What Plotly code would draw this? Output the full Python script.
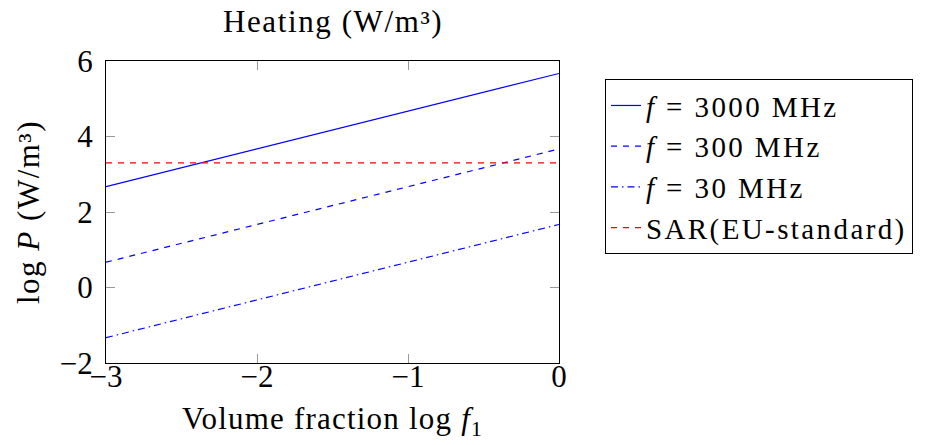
import plotly.graph_objects as go

x_vals = [-3, -2, -1, 0]
p_3000 = [2.67, 3.67, 4.67, 5.67]
p_300 = [0.67, 1.67, 2.67, 3.67]
p_30 = [-1.33, -0.33, 0.67, 1.67]
sar_level = [3.3, 3.3, 3.3, 3.3]

FONT = "Liberation Serif"
FS = 31
LFS = 29


def wide(s, ls):
    return f'<span style="letter-spacing:{ls}px">{s}</span>'


series_names = [
    "<i>f</i> = 3000 MHz",
    "<i>f</i> = 300 MHz",
    "<i>f</i> = 30 MHz",
    "SAR(EU-standard)",
]

fig = go.Figure()
fig.add_trace(go.Scatter(x=x_vals, y=p_3000, mode="lines", name=wide(series_names[0], 2.4),
                         line=dict(color="#0000ff", width=1.2)))
fig.add_trace(go.Scatter(x=x_vals, y=p_300, mode="lines", name=wide(series_names[1], 2.4),
                         line=dict(color="#0000ff", width=1.2, dash="6px,6px")))
fig.add_trace(go.Scatter(x=x_vals, y=p_30, mode="lines", name=wide(series_names[2], 2.4),
                         line=dict(color="#0000ff", width=1.2, dash="7px,4px,1.5px,4px")))
fig.add_trace(go.Scatter(x=x_vals, y=sar_level, mode="lines", name=wide(series_names[3], 2.4),
                         line=dict(color="#ff0000", width=1.2, dash="6px,6px")))

axis_common = dict(
    showline=True, linecolor="black", linewidth=1, mirror="ticks",
    ticks="inside", ticklen=9, tickcolor="#9a9a9a", tickwidth=1,
    showgrid=False, zeroline=False,
    tickfont=dict(family=FONT, size=FS, color="black"),
)

fig.update_layout(
    width=925, height=437,
    margin=dict(l=98, r=374, t=53, b=82),
    paper_bgcolor="white", plot_bgcolor="white",
    font=dict(family=FONT, size=FS, color="black"),
    xaxis=dict(range=[-3, 0], dtick=1, tick0=0, ticklabelstandoff=-14, **axis_common),
    yaxis=dict(range=[-2, 6], dtick=2, tick0=0, ticklabelstandoff=6, **axis_common),
    showlegend=True,
    legend=dict(x=1.1015, y=0.94, xanchor="left", yanchor="top",
                bordercolor="black", borderwidth=1, bgcolor="white",
                font=dict(family=FONT, size=LFS, color="black"),
                tracegroupgap=0),
    annotations=[
        dict(text=wide("Heating (W/m³)", 1.6), xref="paper", yref="paper",
             x=0.5, y=1, yshift=20, xanchor="center", yanchor="bottom",
             showarrow=False, font=dict(family=FONT, size=FS)),
        dict(text=wide("Volume fraction log <i>f</i><sub>1</sub>", 1.2),
             xref="paper", yref="paper",
             x=0.5, y=0, yshift=-58, xanchor="center", yanchor="middle",
             showarrow=False, font=dict(family=FONT, size=FS)),
        dict(text=wide("log <i>P</i> (W/m³)", 1.5),
             xref="paper", yref="paper",
             x=0, y=0.5, xshift=-78, xanchor="center", yanchor="middle",
             textangle=-90, showarrow=False, font=dict(family=FONT, size=FS)),
    ],
)

fig.write_html("out.html")
